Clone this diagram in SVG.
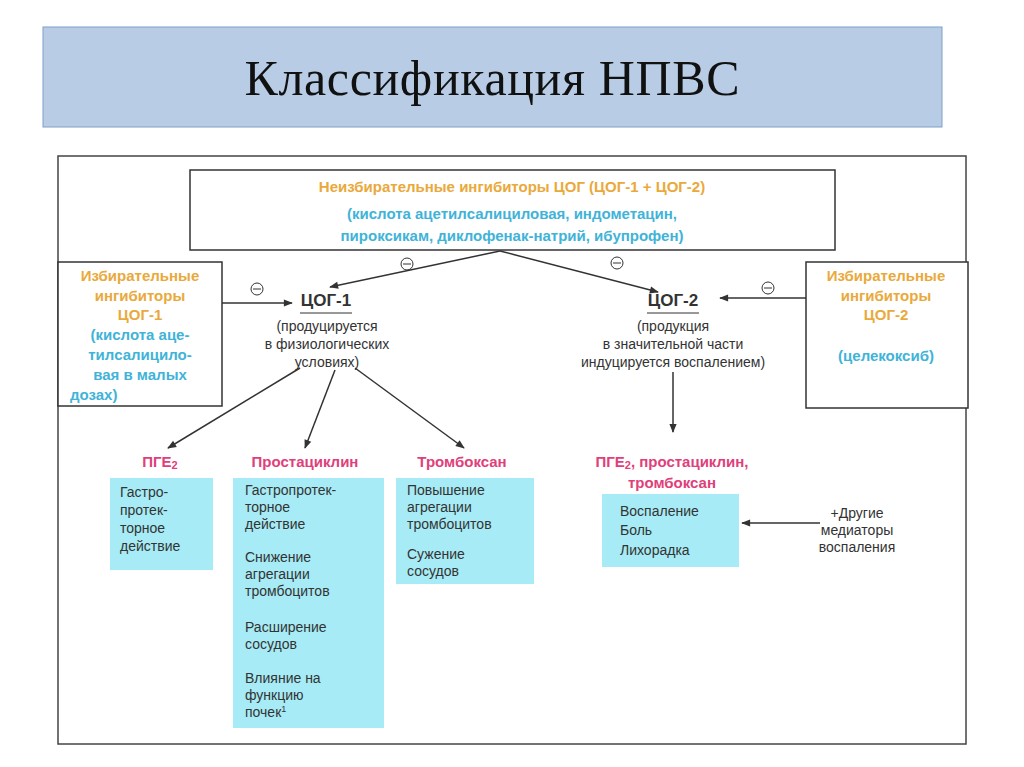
<svg xmlns="http://www.w3.org/2000/svg" width="1024" height="767" viewBox="0 0 1024 767">
<defs>
<marker id="ar" viewBox="0 0 10 10" refX="9" refY="5" markerWidth="8" markerHeight="6" orient="auto"><path d="M0,1 L10,5 L0,9 z" fill="#333"/></marker>
<style>
text{font-family:"Liberation Sans",Arial,sans-serif;fill:#333}
.or{fill:#e9a93b;font-weight:bold;font-size:15px}
.bl{fill:#3fb3d8;font-weight:bold;font-size:15px}
.pk{fill:#e0407a;font-weight:bold;font-size:15px}
.t{font-size:14px}
.box{fill:#fff;stroke:#333;stroke-width:1.5}
.cy{fill:#a6ebf5}
.ln{stroke:#333;stroke-width:1.5;fill:none;marker-end:url(#ar)}
.mc{fill:none;stroke:#333;stroke-width:1}
</style>
</defs>
<rect width="1024" height="767" fill="#fff"/>
<g id="title"><rect x="43" y="27" width="899" height="100" fill="#b8cde5" stroke="#7f9fc8"/>
<text x="492" y="95" text-anchor="middle" textLength="495" style="font-family:'Liberation Serif',serif;font-size:50px;fill:#111">Классификация НПВС</text></g>
<rect x="58" y="156" width="908" height="588" fill="#fff" stroke="#444" stroke-width="1.5"/>
<g id="connectors">
<path class="ln" d="M500,251 L330,287"/><path class="ln" d="M500,251 L658,292"/>
<path class="ln" d="M222,303 L292,303"/><path class="ln" d="M806,298 L720,298"/>
<path class="ln" d="M300,368 L168,448"/><path class="ln" d="M335,370 L305,448"/><path class="ln" d="M355,368 L464,448"/>
<path class="ln" d="M673,372 L673,432"/><path class="ln" d="M820,523 L742,523"/>
<circle class="mc" cx="407" cy="264" r="6"/><path d="M403,264h8" stroke="#333"/>
<circle class="mc" cx="617" cy="263" r="6"/><path d="M613,263h8" stroke="#333"/>
<circle class="mc" cx="257" cy="289" r="6"/><path d="M253,289h8" stroke="#333"/>
<circle class="mc" cx="768" cy="288" r="6"/><path d="M764,288h8" stroke="#333"/>
</g>
<g id="top"><rect class="box" x="190" y="170" width="645" height="80"/>
<text class="or" x="512" y="192" text-anchor="middle">Неизбирательные ингибиторы ЦОГ (ЦОГ-1 + ЦОГ-2)</text>
<text class="bl" x="512" y="219" text-anchor="middle">(кислота ацетилсалициловая, индометацин,</text>
<text class="bl" x="512" y="241" text-anchor="middle">пироксикам, диклофенак-натрий, ибупрофен)</text></g>
<g id="sel1"><rect class="box" x="58" y="262" width="164" height="144"/>
<g text-anchor="middle"><text class="or" x="140" y="281">Избирательные</text><text class="or" x="140" y="301">ингибиторы</text><text class="or" x="140" y="320">ЦОГ-1</text>
<text class="bl" x="140" y="340">(кислота аце-</text><text class="bl" x="140" y="360">тилсалицило-</text><text class="bl" x="140" y="380">вая в малых</text></g><text class="bl" x="70" y="400">дозах)</text></g>
<g id="sel2"><rect class="box" x="806" y="262" width="162" height="146"/>
<g text-anchor="middle"><text class="or" x="886" y="281">Избирательные</text><text class="or" x="886" y="301">ингибиторы</text><text class="or" x="886" y="320">ЦОГ-2</text><text class="bl" x="886" y="361">(целекоксиб)</text></g></g>
<g id="cox1" text-anchor="middle"><text x="326" y="306" style="font-size:17px;font-weight:bold">ЦОГ-1</text><path d="M300,313h52" stroke="#333"/>
<text class="t" x="327" y="331">(продуцируется</text><text class="t" x="327" y="349">в физиологических</text><text class="t" x="327" y="367">условиях)</text></g>
<g id="cox2" text-anchor="middle"><text x="673" y="306" style="font-size:17px;font-weight:bold">ЦОГ-2</text><path d="M647,313h52" stroke="#333"/>
<text class="t" x="673" y="331">(продукция</text><text class="t" x="673" y="349">в значительной части</text><text class="t" x="673" y="367">индуцируется воспалением)</text></g>
<g id="pge2"><text class="pk" x="160" y="467" text-anchor="middle">ПГЕ<tspan font-size="11" dy="2">2</tspan></text>
<rect class="cy" x="110" y="478" width="103" height="92"/>
<text class="t" x="120" y="497">Гастро-</text><text class="t" x="120" y="515">протек-</text><text class="t" x="120" y="533">торное</text><text class="t" x="120" y="551">действие</text></g>
<g id="prost"><text class="pk" x="305" y="467" text-anchor="middle">Простациклин</text>
<rect class="cy" x="233" y="478" width="151" height="250"/>
<text class="t" x="245" y="495">Гастропротек-</text><text class="t" x="245" y="512">торное</text><text class="t" x="245" y="529">действие</text>
<text class="t" x="245" y="562">Снижение</text><text class="t" x="245" y="579">агрегации</text><text class="t" x="245" y="596">тромбоцитов</text>
<text class="t" x="245" y="632">Расширение</text><text class="t" x="245" y="649">сосудов</text>
<text class="t" x="245" y="683">Влияние на</text><text class="t" x="245" y="700">функцию</text><text class="t" x="245" y="717">почек<tspan font-size="9" dy="-5">1</tspan></text></g>
<g id="trom"><text class="pk" x="462" y="467" text-anchor="middle">Тромбоксан</text>
<rect class="cy" x="396" y="478" width="138" height="106"/>
<text class="t" x="407" y="495">Повышение</text><text class="t" x="407" y="512">агрегации</text><text class="t" x="407" y="529">тромбоцитов</text>
<text class="t" x="407" y="559">Сужение</text><text class="t" x="407" y="576">сосудов</text></g>
<g id="infl"><text class="pk" x="672" y="467" text-anchor="middle">ПГЕ<tspan font-size="11" dy="2">2</tspan><tspan dy="-2">, простациклин,</tspan></text>
<text class="pk" x="672" y="488" text-anchor="middle">тромбоксан</text>
<rect class="cy" x="602" y="494" width="137" height="73"/>
<text class="t" x="620" y="516">Воспаление</text><text class="t" x="620" y="535">Боль</text><text class="t" x="620" y="555">Лихорадка</text></g>
<g id="other" text-anchor="middle"><text class="t" x="857" y="518">+Другие</text><text class="t" x="857" y="535">медиаторы</text><text class="t" x="857" y="552">воспаления</text></g>
</svg>
